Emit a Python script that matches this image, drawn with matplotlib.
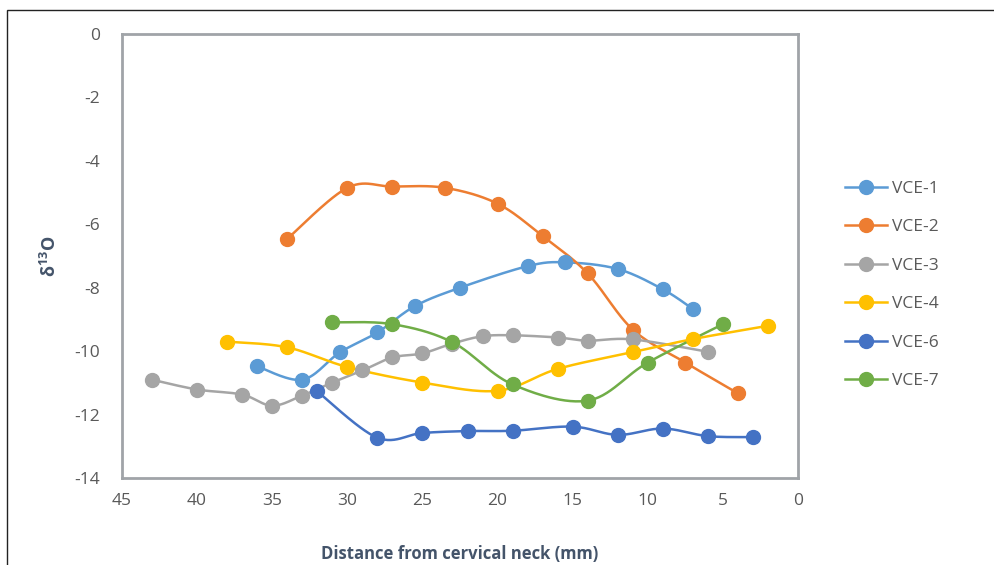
import numpy as np
import matplotlib
matplotlib.use('Agg')
import matplotlib.pyplot as plt
from matplotlib.patches import Rectangle

plt.rcParams['font.family'] = ['Open Sans', 'DejaVu Sans']
plt.rcParams['axes.unicode_minus'] = False
plt.rcParams['mathtext.fontset'] = 'custom'
plt.rcParams['mathtext.bf'] = 'Open Sans:bold'
plt.rcParams['mathtext.rm'] = 'Open Sans'

names = ['VCE-1', 'VCE-2', 'VCE-3', 'VCE-4', 'VCE-6', 'VCE-7']
colors = ['#5B9BD5', '#ED7D31', '#A5A5A5', '#FFC000', '#4472C4', '#70AD47']

vce1_x = [36, 33, 30.5, 28, 25.5, 22.5, 18, 15.5, 12, 9, 7]
vce1_y = [-10.48, -10.9, -10.04, -9.41, -8.58, -8.0, -7.32, -7.2, -7.41, -8.05, -8.67]

vce2_x = [34, 30, 27, 23.5, 20, 17, 14, 11, 7.5, 4]
vce2_y = [-6.46, -4.85, -4.81, -4.85, -5.35, -6.37, -7.55, -9.32, -10.36, -11.33]

vce3_x = [43, 40, 37, 35, 33, 31, 29, 27, 25, 23, 21, 19, 16, 14, 11, 6]
vce3_y = [-10.9, -11.21, -11.37, -11.72, -11.4, -10.99, -10.61, -10.2, -10.07,
          -9.76, -9.53, -9.5, -9.57, -9.67, -9.63, -10.02]

vce4_x = [38, 34, 30, 25, 20, 16, 11, 7, 2]
vce4_y = [-9.7, -9.88, -10.5, -10.99, -11.25, -10.56, -10.03, -9.62, -9.2]

vce6_x = [32, 28, 25, 22, 19, 15, 12, 9, 6, 3]
vce6_y = [-11.27, -12.73, -12.58, -12.52, -12.51, -12.38, -12.64, -12.44, -12.68, -12.71]

vce7_x = [31, 27, 23, 19, 14, 10, 5]
vce7_y = [-9.09, -9.15, -9.72, -11.05, -11.56, -10.36, -9.15]

series = [(vce1_x, vce1_y), (vce2_x, vce2_y), (vce3_x, vce3_y),
          (vce4_x, vce4_y), (vce6_x, vce6_y), (vce7_x, vce7_y)]


def smooth(xs, ys, n=30):
    # excel-like smoothed line: catmull-rom through the points
    p = np.column_stack([xs, ys]).astype(float)
    out = [p[0]]
    for i in range(len(p) - 1):
        p0 = p[i - 1] if i > 0 else p[i]
        p1 = p[i]
        p2 = p[i + 1]
        p3 = p[i + 2] if i + 2 < len(p) else p[i + 1]
        c1 = p1 + (p2 - p0) / 6.0
        c2 = p2 - (p3 - p1) / 6.0
        t = np.linspace(0, 1, n)[1:, None]
        b = ((1 - t) ** 3) * p1 + 3 * ((1 - t) ** 2) * t * c1 + 3 * (1 - t) * t ** 2 * c2 + t ** 3 * p2
        out.extend(b)
    out = np.array(out)
    return out[:, 0], out[:, 1]


fig = plt.figure(figsize=(9.94, 5.65), dpi=100)
ax = fig.add_axes([122 / 994, 1 - 478 / 565, (798 - 122) / 994, (478 - 34) / 565])

for (xs, ys), name, c in zip(series, names, colors):
    sx, sy = smooth(xs, ys)
    ax.plot(sx, sy, color=c, lw=1.8, zorder=2)
    ax.plot(xs, ys, 'o', color=c, ms=10, zorder=3)
    ax.plot([], [], '-o', color=c, lw=1.8, ms=10, label=name)

ax.set_xlim(45, 0)
ax.set_ylim(-14, 0)
ax.set_xticks(range(45, -1, -5))
ax.set_yticks(range(-14, 1, 2))
ax.tick_params(length=0, labelsize=12.5, labelcolor='#595959')
ax.tick_params(axis='y', pad=16)
ax.tick_params(axis='x', pad=11)
for s in ax.spines.values():
    s.set_color('#A0A4A8')
    s.set_linewidth(2)

ax.set_xlabel('Distance from cervical neck (mm)', fontsize=12, fontweight='bold',
              color='#44546A', labelpad=26)
ax.set_ylabel(r'$\mathbf{\delta^{13}O}$', fontsize=13, color='#44546A', labelpad=10)

ax.legend(loc='center left', bbox_to_anchor=(845 / 994, 1 - 285 / 565),
          bbox_transform=fig.transFigure, frameon=False, fontsize=12.5,
          labelcolor='#595959', handlelength=2.4, handletextpad=0.3,
          labelspacing=1.29, borderaxespad=0, borderpad=0)

fig.patches.append(Rectangle((7 / 994, -0.1), 1.1, 1 - 10 / 565 + 0.1,
                             transform=fig.transFigure, fill=False,
                             edgecolor='#222222', lw=1, figure=fig))

fig.savefig('out.png', dpi=100)
